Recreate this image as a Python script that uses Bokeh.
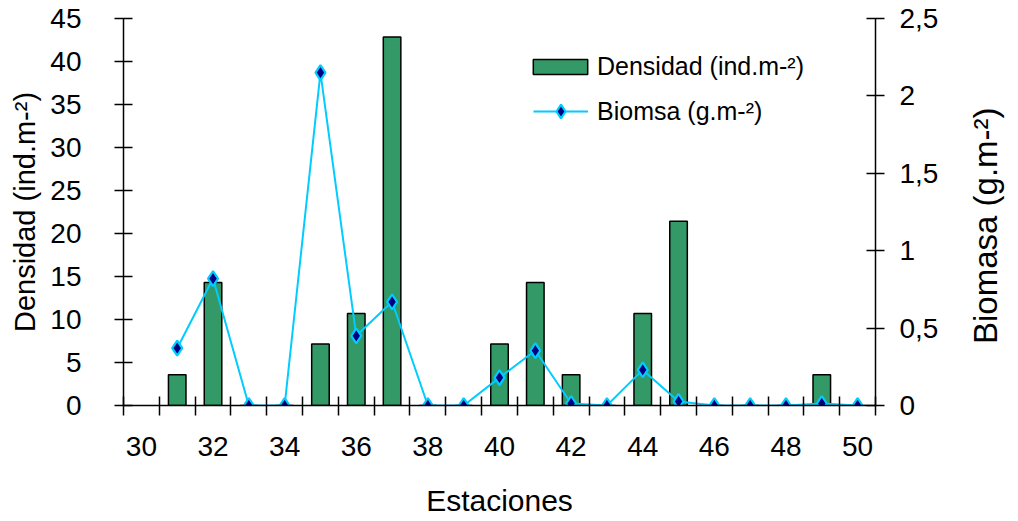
import math
from bokeh.plotting import figure
from bokeh.layouts import row
from bokeh.models import (Range1d, LinearAxis, FixedTicker, CustomJSTickFormatter,
                          Legend, LegendItem, ColumnDataSource)
from bokeh.core.properties import value
from bokeh.embed import file_html
from bokeh.resources import INLINE

# ---- data ----
estaciones = [31, 32, 33, 34, 35, 36, 37, 38, 39, 40,
              41, 42, 43, 44, 45, 46, 47, 48, 49, 50]
densidad = [3.57, 14.29, 0, 0, 7.14, 10.71, 42.86, 0, 0, 7.14,
            14.29, 3.57, 0, 10.71, 21.43, 0, 0, 0, 3.57, 0]
biomasa = [0.37, 0.82, 0, 0, 2.15, 0.45, 0.67, 0, 0, 0.18,
           0.355, 0.013, 0, 0.23, 0.026, 0, 0, 0, 0.013, 0]
x_tick_labels = [30, 32, 34, 36, 38, 40, 42, 44, 46, 48, 50]
x_boundaries = [29.5 + i for i in range(22)]
left_ticks = [0, 5, 10, 15, 20, 25, 30, 35, 40, 45]
right_ticks = [0, 0.5, 1, 1.5, 2, 2.5]
right_title = ["Biomasa (g.m-²)"]

FONT = "Liberation Sans"
W_MAIN, W_SIDE, H = 958, 60, 521

p = figure(width=W_MAIN, height=H, output_backend="svg", toolbar_location=None,
           x_range=Range1d(29.5, 50.5), y_range=Range1d(0, 45),
           min_border_left=123, min_border_right=83,
           min_border_top=18, min_border_bottom=116)
p.outline_line_color = None
p.xgrid.visible = False
p.ygrid.visible = False
p.extra_y_ranges = {"bio": Range1d(0, 2.5)}

src = ColumnDataSource(dict(x=estaciones, d=densidad, b=biomasa))

bars = p.vbar(x="x", top="d", width=0.49, source=src,
              fill_color="#339966", line_color="black", line_width=1.5)
line = p.line("x", "b", source=src, y_range_name="bio",
              line_color="#00CCFF", line_width=2)
pts = p.scatter("x", "b", source=src, y_range_name="bio", marker="diamond",
                size=15, fill_color="#000080", line_color="#00CCFF", line_width=2.2)

# x axis
xa = p.xaxis[0]
xa.ticker = FixedTicker(ticks=x_tick_labels, minor_ticks=x_boundaries)
xa.major_tick_in = 0
xa.major_tick_out = 0
xa.minor_tick_in = 9
xa.minor_tick_out = 10
xa.minor_tick_line_color = "black"
xa.minor_tick_line_width = 1.5
xa.major_label_standoff = 21
xa.axis_label = "Estaciones"
xa.axis_label_standoff = 25

# left axis
ya = p.yaxis[0]
ya.ticker = FixedTicker(ticks=left_ticks)
ya.minor_tick_line_color = None
ya.major_tick_in = 9
ya.major_tick_out = 9
ya.major_label_standoff = 33
ya.axis_label = "Densidad (ind.m-²)"
ya.axis_label_standoff = 6

# right axis (ticks and labels)
ra = LinearAxis(y_range_name="bio", ticker=FixedTicker(ticks=right_ticks),
                formatter=CustomJSTickFormatter(code="return tick.toString().replace('.', ',');"))
ra.minor_tick_line_color = None
ra.major_tick_in = 9
ra.major_tick_out = 9
ra.major_label_standoff = 15
p.add_layout(ra, "right")

for ax, tsize in ((xa, "30px"), (ya, "29px")):
    ax.axis_label_text_font = FONT
    ax.axis_label_text_font_size = tsize
    ax.axis_label_text_font_style = "normal"
    ax.axis_label_text_color = "black"

for ax in (xa, ya, ra):
    ax.axis_line_color = "black"
    ax.axis_line_width = 1.5
    ax.major_tick_line_color = "black"
    ax.major_tick_line_width = 1.5
    ax.major_label_text_font = FONT
    ax.major_label_text_font_size = "28px"
    ax.major_label_text_color = "black"

common = dict(padding=0, margin=0, border_line_color=None, background_fill_alpha=0,
              label_text_font=FONT, label_text_font_size="25px",
              label_text_color="black", spacing=0)
leg1 = Legend(items=[LegendItem(label=value("Densidad (ind.m-²)"), renderers=[bars])],
              location=(403, 324), glyph_width=68, glyph_height=19,
              label_standoff=3, **common)
leg2 = Legend(items=[LegendItem(label=value("Biomsa (g.m-²)"), renderers=[line, pts])],
              location=(410, 277), glyph_width=55, glyph_height=34,
              label_standoff=9, **common)
p.add_layout(leg1)
p.add_layout(leg2)

# narrow side panel holding the right-axis title, reading bottom-to-top
p2 = figure(width=W_SIDE, height=H, output_backend="svg", toolbar_location=None,
            x_range=Range1d(0, W_SIDE), y_range=Range1d(0, H),
            x_axis_location=None, y_axis_location=None,
            min_border=0, min_border_left=0, min_border_right=0,
            min_border_top=0, min_border_bottom=0)
p2.outline_line_color = None
p2.xgrid.visible = False
p2.ygrid.visible = False
p2.text(x=[27], y=[242], text=right_title, angle=math.pi / 2,
        text_align="center", text_baseline="middle",
        text_font=value(FONT), text_font_size=value("33px"), text_color="black")

layout = row(p, p2, spacing=0)
open("out.html", "w").write(file_html(layout, INLINE))
